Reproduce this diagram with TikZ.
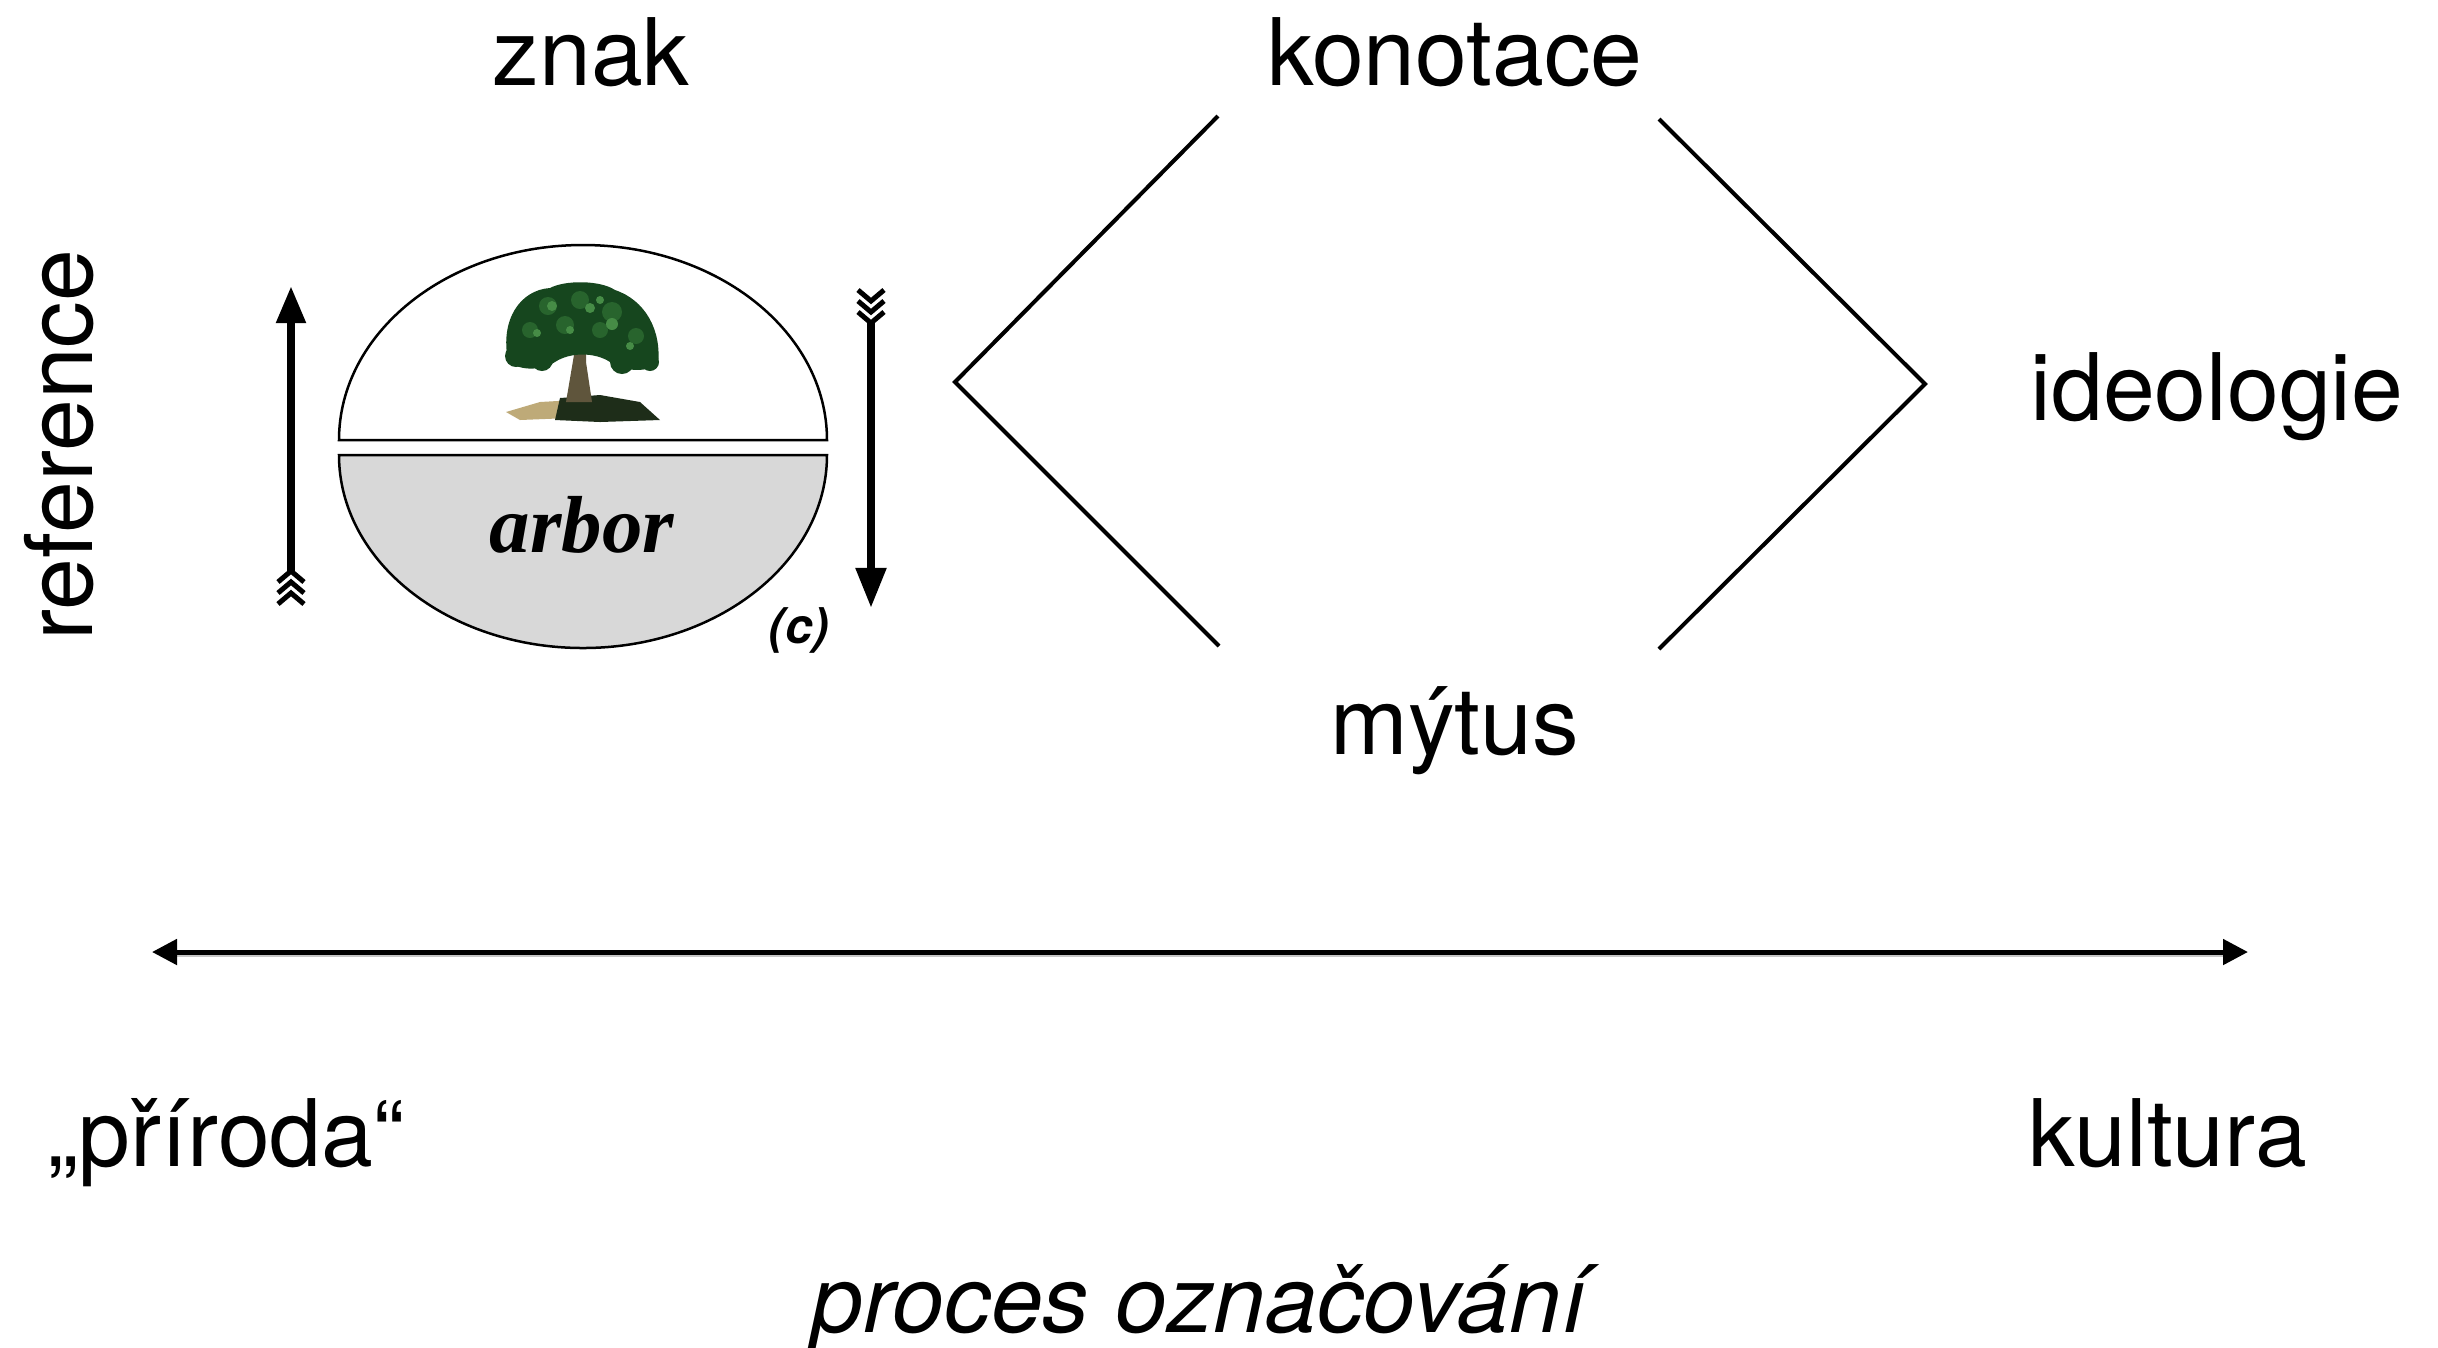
\documentclass[tikz,border=0pt]{standalone}
\usepackage{fontspec}
\setmainfont{TeX Gyre Heros}
\newfontfamily\serifface{Liberation Serif}
\usetikzlibrary{arrows.meta}
\definecolor{signgray}{RGB}{216,216,216}
\definecolor{leafdark}{RGB}{22,70,30}
\definecolor{leafmid}{RGB}{40,100,45}
\definecolor{leaflight}{RGB}{70,140,70}
\definecolor{trunkc}{RGB}{95,85,60}
\definecolor{groundc}{RGB}{30,45,25}
\definecolor{sandc}{RGB}{190,170,120}
\begin{document}
\begin{tikzpicture}[x=0.01cm,y=0.01cm,
  lbl/.style={font=\fontsize{26.5}{30}\selectfont, inner sep=0pt, anchor=base},
  diag/.style={line width=0.04cm, line cap=butt},
  outl/.style={line width=0.025cm},
  fletch/.style={line width=0.05cm},
  vshaft/.style={line width=0.08cm}]
\fill[white] (0,0) rectangle (2438,-1347);
\useasboundingbox (0,0) rectangle (2438,-1347);

% labels
\node[lbl] (znak) at (591,-85) {znak};
\node[lbl] (konot) at (1455,-85) {konotace};
\node[lbl] (ideol) at (2217,-420) {ideologie};
\node[lbl] (mytus) at (1455,-754) {mýtus};
\node[lbl, rotate=90] (refer) at (92,-445) {reference};
\node[lbl] (priroda) at (226,-1166) {„příroda“};
\node[lbl] (kultura) at (2168,-1166) {kultura};
\node[lbl, font=\fontsize{26.5}{30}\selectfont\itshape] (proces) at (1199,-1332) {proces označování};

% diamond
\coordinate (dtl) at (1218,-116);
\coordinate (dl) at (955,-382);
\coordinate (dbl) at (1219,-646);
\coordinate (dtr) at (1659,-119);
\coordinate (dr) at (1925,-384);
\coordinate (dbr) at (1659,-649);
\draw[diag] (dtl) -- (dl) -- (dbl);
\draw[diag] (dtr) -- (dr) -- (dbr);

% sign
\draw[outl] (339,-440) arc[start angle=180,end angle=0,x radius=244,y radius=195] -- cycle;
\filldraw[outl, fill=signgray] (339,-455) arc[start angle=180,end angle=360,x radius=244,y radius=193] -- cycle;
\node[font=\serifface\bfseries\itshape\fontsize{23}{26}\selectfont, inner sep=0pt, anchor=base] (arbor) at (582,-552) {arbor};
\node[font=\bfseries\itshape\fontsize{14}{16}\selectfont, inner sep=0pt] (cmark) at (799,-630) {(c)};

% tree
\fill[sandc] (506,-412) -- (540,-402) -- (575,-400) -- (570,-418) -- (520,-420) -- cycle;
\fill[groundc] (560,-398) -- (600,-395) -- (640,-402) -- (660,-420) -- (600,-422) -- (555,-420) -- cycle;
\fill[trunkc] (566,-402) -- (574,-355) -- (578,-335) -- (586,-335) -- (586,-362) -- (592,-402) -- cycle;
\fill[leafdark] (508,-360) .. controls (500,-320) and (520,-290) .. (550,-288)
  .. controls (565,-280) and (600,-280) .. (615,-290)
  .. controls (645,-300) and (662,-330) .. (658,-365)
  .. controls (645,-372) and (625,-372) .. (610,-362)
  .. controls (595,-352) and (570,-352) .. (555,-362)
  .. controls (540,-372) and (515,-370) .. (508,-360) -- cycle;
\foreach \cx/\cy/\r in {516/356/11, 542/360/11, 622/362/12, 650/362/9}
  \fill[leafdark] (\cx,-\cy) circle[radius=\r];
\foreach \cx/\cy/\r in {548/306/9, 580/300/9, 612/312/10, 530/330/8, 565/325/9, 600/330/8, 636/336/8}
  \fill[leafmid] (\cx,-\cy) circle[radius=\r];
\foreach \cx/\cy/\r in {552/306/5, 590/308/5, 612/324/6, 537/333/4, 570/330/4, 630/346/4, 600/300/4}
  \fill[leaflight] (\cx,-\cy) circle[radius=\r];

% left arrow (up) with fletching
\coordinate (la1) at (291,-572);
\coordinate (la2) at (291,-286);
\draw[vshaft, -{Triangle[length=0.37cm,width=0.28cm]}] (la1) -- (la2);
\foreach \y in {571,582,593}
  \draw[fletch] (278,-\y-11) -- (291,-\y) -- (304,-\y-11);

% right arrow (down) with fletching
\coordinate (ra1) at (871,-322);
\coordinate (ra2) at (871,-608);
\draw[vshaft, -{Triangle[length=0.40cm,width=0.29cm]}] (ra1) -- (ra2);
\foreach \y in {301,312,323}
  \draw[fletch] (858,-\y+11) -- (871,-\y) -- (884,-\y+11);

% bottom double arrow
\coordinate (ba1) at (152,-952);
\coordinate (ba2) at (2248,-952);
\draw[line width=0.03cm, gray!45] ([shift={(0.2cm,-0.03cm)}]ba1) -- ([shift={(-0.2cm,-0.03cm)}]ba2);
\draw[line width=0.05cm, {Triangle[length=0.25cm,width=0.25cm]}-{Triangle[length=0.25cm,width=0.25cm]}] (ba1) -- (ba2);
\end{tikzpicture}
\end{document}
